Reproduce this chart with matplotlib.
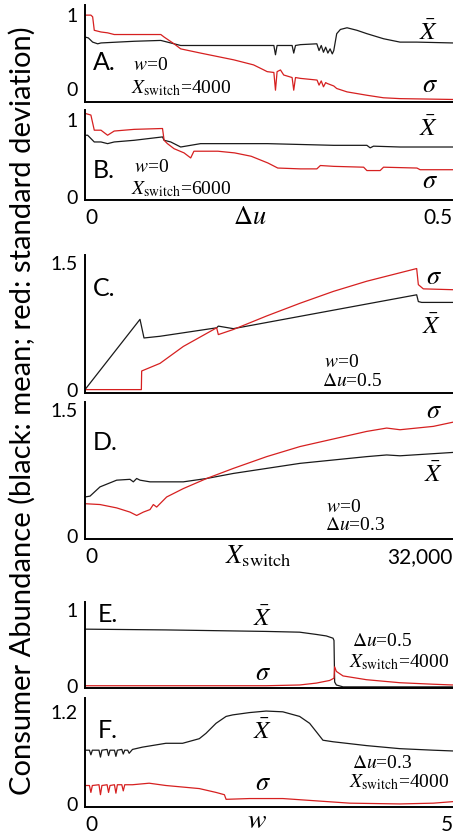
import matplotlib
matplotlib.use("Agg")
import matplotlib.pyplot as plt

plt.rcParams["font.family"] = ["Lato", "DejaVu Sans"]
plt.rcParams["mathtext.fontset"] = "stix"

RED = "#d62020"
BLK = "#1a1a1a"
SERIF = "Liberation Serif"

# ---- A: mean / sd vs delta u, w=0, Xswitch=4000 ----
a_mean_x = [0, 0.0045, 0.0104, 0.0172, 0.0217, 0.044, 0.067, 0.103, 0.112, 0.130, 0.157, 0.202,
            0.2566, 0.2588, 0.261, 0.2814, 0.2836, 0.286, 0.2927, 0.315, 0.318, 0.321, 0.324,
            0.327, 0.330, 0.333, 0.336, 0.338, 0.342, 0.347, 0.356, 0.3695, 0.383, 0.4056,
            0.428, 0.4508, 0.5]
a_mean_y = [0.74, 0.73, 0.68, 0.66, 0.67, 0.68, 0.69, 0.70, 0.68, 0.64, 0.64, 0.64,
            0.64, 0.53, 0.64, 0.64, 0.55, 0.64, 0.65, 0.66, 0.58, 0.64, 0.56,
            0.62, 0.55, 0.60, 0.54, 0.58, 0.78, 0.83, 0.85, 0.82, 0.78, 0.72,
            0.68, 0.68, 0.67]
a_sd_x = [0, 0.008, 0.0104, 0.0126, 0.0172, 0.0217, 0.0307, 0.0352, 0.0397, 0.103, 0.1075,
          0.121, 0.130, 0.157, 0.202, 0.229, 0.243, 0.2475, 0.2566, 0.2588, 0.261, 0.2656,
          0.270, 0.2814, 0.2836, 0.286, 0.2927, 0.3153, 0.318, 0.321, 0.324, 0.327, 0.329,
          0.338, 0.342, 0.356, 0.383, 0.4056, 0.428, 0.5]
a_sd_y = [1.0, 1.0, 0.98, 0.82, 0.81, 0.80, 0.79, 0.78, 0.77, 0.77, 0.74,
          0.66, 0.60, 0.55, 0.47, 0.41, 0.35, 0.33, 0.32, 0.11, 0.33, 0.35,
          0.29, 0.26, 0.11, 0.26, 0.25, 0.23, 0.17, 0.22, 0.15, 0.20, 0.19,
          0.16, 0.13, 0.09, 0.05, 0.02, 0.01, 0.0]

# ---- B: same, Xswitch=6000 ----
b_mean_x = [0, 0.0036, 0.0126, 0.0217, 0.0307, 0.0397, 0.067, 0.1053, 0.1075, 0.1165, 0.130,
            0.157, 0.248, 0.338, 0.383, 0.3875, 0.392, 0.428, 0.5]
b_mean_y = [0.74, 0.74, 0.66, 0.66, 0.64, 0.66, 0.68, 0.72, 0.68, 0.66, 0.60,
            0.64, 0.64, 0.62, 0.62, 0.59, 0.61, 0.60, 0.60]
b_sd_x = [0, 0.008, 0.0126, 0.0217, 0.0307, 0.0397, 0.067, 0.1053, 0.1075, 0.112, 0.121,
          0.1346, 0.1436, 0.148, 0.1806, 0.2033, 0.2258, 0.2485, 0.2619, 0.2927, 0.315,
          0.3198, 0.338, 0.3786, 0.383, 0.401, 0.4056, 0.451, 0.4553, 0.5]
b_sd_y = [1.0, 0.98, 0.80, 0.80, 0.74, 0.79, 0.81, 0.82, 0.68, 0.64, 0.58,
          0.53, 0.47, 0.55, 0.55, 0.53, 0.49, 0.41, 0.35, 0.34, 0.34,
          0.38, 0.37, 0.36, 0.32, 0.32, 0.36, 0.35, 0.33, 0.33]

# ---- C: vs Xswitch, w=0, du=0.5 ----
c_mean_x = [0, 4783, 5130, 6522, 11449, 11594, 12899, 28841, 28986, 29275, 32000]
c_mean_y = [0.0, 0.83, 0.61, 0.63, 0.73, 0.75, 0.72, 1.12, 1.04, 1.03, 1.03]
c_sd_x = [0, 4900, 4928, 6522, 8551, 11449, 11594, 12899, 15797, 18696, 21594, 24493,
          27391, 28841, 28986, 29420, 32000]
c_sd_y = [0.0, 0.0, 0.22, 0.31, 0.51, 0.73, 0.65, 0.71, 0.87, 1.02, 1.16, 1.28,
          1.38, 1.43, 1.24, 1.19, 1.18]

# ---- D: vs Xswitch, w=0, du=0.3 ----
d_mean_x = [0, 435, 1304, 2754, 3913, 4203, 4493, 4783, 5652, 8551, 10580, 12899, 15797,
            18696, 21594, 24493, 26232, 27391, 32000]
d_mean_y = [0.46, 0.47, 0.58, 0.66, 0.67, 0.64, 0.68, 0.66, 0.64, 0.64, 0.68, 0.74, 0.80,
            0.86, 0.90, 0.94, 0.96, 0.95, 0.99]
d_sd_x = [0, 1304, 2754, 3913, 4493, 5072, 5652, 5942, 6232, 7101, 8551, 10580, 12899,
          15797, 18696, 21594, 24493, 26232, 27391, 30290, 32000]
d_sd_y = [0.38, 0.37, 0.33, 0.28, 0.24, 0.28, 0.31, 0.37, 0.34, 0.46, 0.56, 0.68, 0.80,
          0.94, 1.06, 1.15, 1.24, 1.28, 1.26, 1.30, 1.35]

# ---- E: vs w, du=0.5, Xswitch=4000 ----
e_mean_x = [0, 1.099, 2.461, 2.916, 3.143, 3.279, 3.370, 3.383, 3.392, 3.415, 3.506, 5]
e_mean_y = [0.75, 0.74, 0.72, 0.71, 0.68, 0.66, 0.63, 0.60, 0.05, 0.01, -0.015, -0.015]
e_sd_x = [0, 1.099, 2.461, 2.916, 3.143, 3.324, 3.383, 3.392, 3.415, 3.506, 3.824, 4.278,
          4.732, 5]
e_sd_y = [0.0, 0.0, 0.0, 0.01, 0.035, 0.07, 0.10, 0.25, 0.19, 0.13, 0.08, 0.04, 0.02, 0.01]

# ---- F: vs w, du=0.3, Xswitch=4000 ----
f_mean_x = [0, 0.06, 0.08, 0.10, 0.19, 0.21, 0.23, 0.30, 0.32, 0.34, 0.40, 0.42, 0.44, 0.50,
            0.52, 0.54, 0.58, 0.60, 0.645, 0.781, 1.099, 1.326, 1.553, 1.644, 1.780, 1.917,
            2.007, 2.234, 2.461, 2.688, 2.916, 3.052, 3.143, 3.233, 3.370, 3.824, 4.278,
            4.732, 5]
f_mean_y = [0.70, 0.70, 0.64, 0.70, 0.70, 0.61, 0.70, 0.71, 0.63, 0.70, 0.70, 0.62, 0.70, 0.71,
            0.65, 0.70, 0.70, 0.66, 0.71, 0.74, 0.79, 0.79, 0.85, 0.92, 1.05, 1.14,
            1.16, 1.19, 1.21, 1.20, 1.14, 1.05, 0.94, 0.83, 0.81, 0.76, 0.72,
            0.70, 0.69]
f_sd_x = [0, 0.06, 0.08, 0.10, 0.19, 0.21, 0.23, 0.30, 0.32, 0.34, 0.40, 0.42, 0.44, 0.50,
          0.52, 0.54, 0.645, 0.872, 1.099, 1.553, 1.780, 1.894, 1.917, 2.234, 2.688, 3.143,
          3.597, 4.278, 4.732, 5]
f_sd_y = [0.24, 0.24, 0.15, 0.24, 0.25, 0.12, 0.24, 0.25, 0.15, 0.24, 0.25, 0.14, 0.25, 0.25,
          0.17, 0.25, 0.25, 0.27, 0.24, 0.20, 0.15, 0.12, 0.06, 0.07, 0.07, 0.04,
          0.01, 0.0, 0.01, 0.03]

W, H = 453, 835
fig = plt.figure(figsize=(W / 100, H / 100), dpi=100)


def rect(top, bottom, left=85):
    # pixel box -> figure fraction
    return [left / W, 1 - bottom / H, (W - left) / W, (bottom - top) / H]


def px(x, y):
    return x / W, 1 - y / H


def panel(box, mx, my, sx, sy, xlim, ylim, yticks, ylabels):
    ax = fig.add_axes(box)
    ax.plot(mx, my, color=BLK, lw=0.9)
    ax.plot(sx, sy, color=RED, lw=0.9)
    ax.set_xlim(*xlim); ax.set_ylim(*ylim)
    for s in ("top", "right"):
        ax.spines[s].set_visible(False)
    for s in ("left", "bottom"):
        ax.spines[s].set_linewidth(1.4)
    ax.set_yticks(yticks)
    ax.set_yticklabels(ylabels, fontsize=14)
    ax.tick_params(length=0, pad=5)
    ax.set_xticks([])
    return ax


def xticks_ends(ax, vals, labels):
    ax.set_xticks(vals)
    ax.set_xticklabels(labels, fontsize=15)
    ax.tick_params(axis="x", length=0, pad=6)
    tl = ax.get_xticklabels()
    tl[0].set_ha("left"); tl[-1].set_ha("right")


def stat_labels(xb, yb, xs, ys):
    fig.text(*px(xb, yb), r"$\bar{X}$", fontsize=18, ha="center", va="center")
    fig.text(*px(xs, ys), r"$\sigma$", fontsize=19, ha="center", va="center")


def note(x, y, s):
    fig.text(*px(x, y), s, fontsize=14, family=SERIF, ha="left", va="center")


def letter(x, y, s):
    fig.text(*px(x, y), s, fontsize=18, ha="left", va="center")


axA = panel(rect(5, 102), a_mean_x, a_mean_y, a_sd_x, a_sd_y, (0, 0.5), (-0.03, 1.12), [0, 1], ["0", "1"])
axB = panel(rect(110, 200), b_mean_x, b_mean_y, b_sd_x, b_sd_y, (0, 0.5), (-0.03, 1.04), [0, 1], ["0", "1"])
xticks_ends(axB, [0, 0.5], ["0", "0.5"])
# keep the stacked 0 / 1 labels of A and B apart, as in the original
axA.get_yticklabels()[0].set_va("bottom")
axB.get_yticklabels()[1].set_va("top")
axC = panel(rect(255, 393), c_mean_x, c_mean_y, c_sd_x, c_sd_y, (0, 32000), (-0.04, 1.59), [0, 1.5], ["0", "1.5"])
axD = panel(rect(402, 539), d_mean_x, d_mean_y, d_sd_x, d_sd_y, (0, 32000), (-0.04, 1.59), [0, 1.5], ["0", "1.5"])
xticks_ends(axD, [0, 32000], ["0", "32,000"])
axE = panel(rect(602, 688), e_mean_x, e_mean_y, e_sd_x, e_sd_y, (0, 5), (-0.03, 1.11), [0, 1], ["0", "1"])
axF = panel(rect(698, 807), f_mean_x, f_mean_y, f_sd_x, f_sd_y, (0, 5), (-0.04, 1.38), [0, 1.2], ["0", "1.2"])
xticks_ends(axF, [0, 5], ["0", "5"])

# panel A / B annotations
letter(93, 62, "A.")
note(133, 66, r"$w$=0")
note(131, 88, r"$X_{\mathrm{switch}}$=4000")
stat_labels(429, 32, 430, 84)
letter(93, 170, "B.")
note(134, 168, r"$w$=0")
note(131, 189, r"$X_{\mathrm{switch}}$=6000")
stat_labels(429, 128, 430, 181)
fig.text(*px(250, 216), r"$\Delta u$", fontsize=19, ha="center", va="center")

# panel C / D
letter(93, 288, "C.")
note(324, 363, r"$w$=0")
note(322, 381, r"$\Delta u$=0.5")
stat_labels(432, 326, 434, 277)
letter(93, 443, "D.")
note(326, 507, r"$w$=0")
note(325, 525, r"$\Delta u$=0.3")
stat_labels(434, 474, 434, 411)
fig.text(*px(258, 556), r"$X_{\mathrm{switch}}$", fontsize=19, ha="center", va="center")

# panel E / F
letter(98, 614, "E.")
note(352, 642, r"$\Delta u$=0.5")
note(349, 662, r"$X_{\mathrm{switch}}$=4000")
stat_labels(263, 618, 263, 673)
letter(98, 731, "F.")
note(352, 763, r"$\Delta u$=0.3")
note(349, 782, r"$X_{\mathrm{switch}}$=4000")
stat_labels(263, 731, 263, 783)
fig.text(*px(257, 820), r"$w$", fontsize=20, ha="center", va="center")

fig.text(*px(22, 411), "Consumer Abundance (black: mean; red: standard deviation)",
         rotation=90, fontsize=21, ha="center", va="center")

fig.savefig("out.png", dpi=100)
